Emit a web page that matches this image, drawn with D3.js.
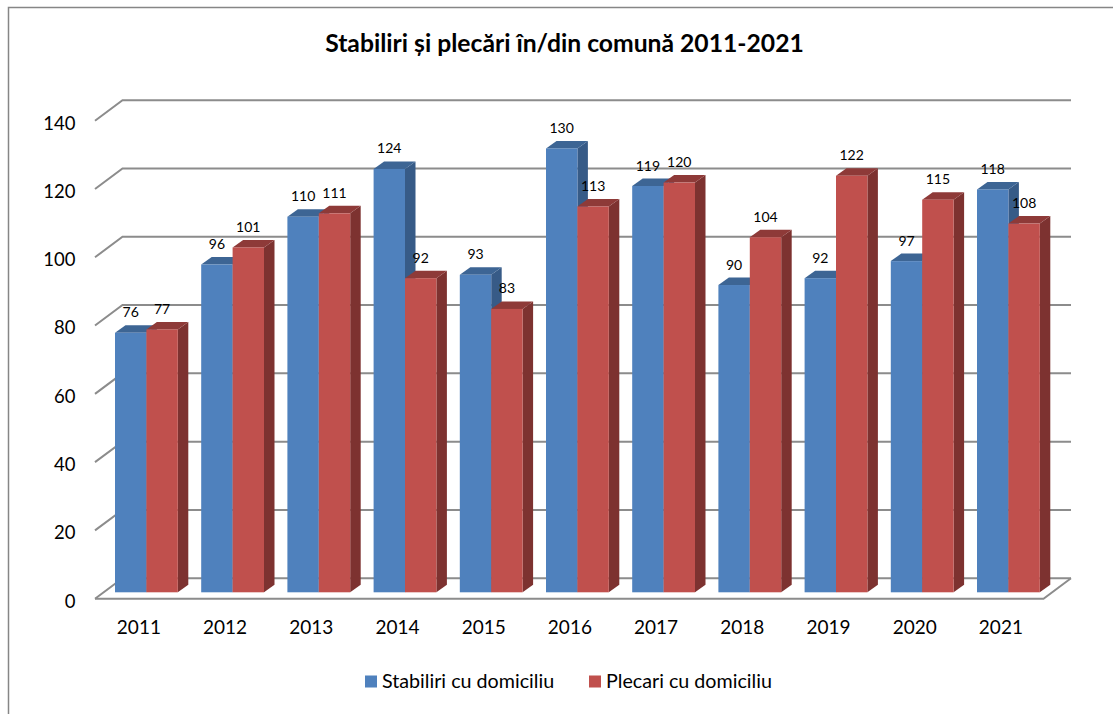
<!DOCTYPE html>
<html>
<head>
<meta charset="utf-8">
<script src="https://cdn.jsdelivr.net/npm/d3@7"></script>
<style>
body { margin: 0; background: #fff; }
svg { display: block; }
text { font-family: Lato, "Open Sans", sans-serif; fill: #000; }
</style>
</head>
<body>
<script>
//chart values
var years = ["2011", "2012", "2013", "2014", "2015", "2016", "2017", "2018", "2019", "2020", "2021"];
var stabiliri = [76, 96, 110, 124, 93, 130, 119, 90, 92, 97, 118];
var plecari = [77, 101, 111, 92, 83, 113, 120, 104, 122, 115, 108];
var yTicks = [0, 20, 40, 60, 80, 100, 120, 140];
var seriesNames = ["Stabiliri cu domiciliu", "Plecari cu domiciliu"];
var titleText = "Stabiliri și plecări în/din comună 2011-2021";

//svg dimensions
var width = 1113,
    height = 714;

//3d offsets
var wallDx = 27.5, wallDy = 20.5; //floor depth
var barDx = 10.5, barDy = 7.5; //bar depth
var barBase = 592.3; //front edge of the bars

var svg = d3.select("body")
    .append("svg")
    .attr("width", width)
    .attr("height", height);

//frame, only top and left are visible
svg.append("path")
    .attr("d", "M8.5,714V7.5H1113")
    .attr("fill", "none")
    .attr("stroke", "#868686")
    .attr("stroke-width", 1.5);

//scales
var x = d3.scaleBand()
    .domain(years)
    .range([115 - 27.4 / 2, 115 - 27.4 / 2 + 86.2 * years.length])
    .paddingInner(0)
    .paddingOuter(0);

var y = d3.scaleLinear()
    .domain([0, 140])
    .range([598.7, 120.7]);

var barW = 31.4;
function barX(year, s){ return x(year) + 27.4 / 2 + s * barW; }
function barH(v){ return y(0) - y(v); }

//floor and gridlines
var left = 95, right = 1043.5;

var grid = svg.append("g").attr("class", "grid");
grid.selectAll("path")
    .data(yTicks)
    .enter()
    .append("path")
    .attr("d", function(d){
        var yy = y(d);
        return "M" + left + "," + yy + "L" + (left + wallDx) + "," + (yy - wallDy) + "H" + (right + wallDx);
    })
    .attr("fill", "none")
    .attr("stroke", "#8c8c8c")
    .attr("stroke-width", 2);

//front and right edge of the floor
grid.append("path")
    .attr("d", "M" + left + "," + y(0) + "H" + right + "L" + (right + wallDx) + "," + (y(0) - wallDy))
    .attr("fill", "none")
    .attr("stroke", "#8c8c8c")
    .attr("stroke-width", 2);

//y axis labels, no line
var yAxis = d3.axisLeft(y)
    .tickValues(yTicks)
    .tickSize(0)
    .tickPadding(0);
var yG = svg.append("g")
    .attr("transform", "translate(75.5,2.5)")
    .call(yAxis);
yG.select(".domain").remove();
yG.selectAll("text")
    .style("font-size", "18.5px");

//x axis labels
var xAxis = d3.axisBottom(x)
    .tickSize(0)
    .tickPadding(0);
var xG = svg.append("g")
    .attr("transform", "translate(-5.5,620)")
    .call(xAxis);
xG.select(".domain").remove();
xG.selectAll("text")
    .style("font-size", "19px");

//bars drawn left to right so that later ones cover the earlier ones
var barData = [];
years.forEach(function(year, i){
    barData.push({year: year, s: 0, v: stabiliri[i]});
    barData.push({year: year, s: 1, v: plecari[i]});
});

var colors = [
    {front: "#4f81bd", top: "#3d6594", side: "#375b87"},
    {front: "#c0504d", top: "#8e3a38", side: "#7d3230"}
];

var bars = svg.selectAll(".bar")
    .data(barData)
    .enter()
    .append("g")
    .attr("class", "bar");

bars.append("path") //side face
    .attr("d", function(d){
        var x1 = barX(d.year, d.s) + barW, top = barBase - barH(d.v);
        return "M" + x1 + "," + barBase + "V" + top + "l" + barDx + "," + (-barDy) + "V" + (barBase - barDy) + "Z";
    })
    .attr("fill", function(d){ return colors[d.s].side; });

bars.append("path") //top face
    .attr("d", function(d){
        var x0 = barX(d.year, d.s), top = barBase - barH(d.v);
        return "M" + x0 + "," + top + "h" + barW + "l" + barDx + "," + (-barDy) + "h" + (-barW) + "Z";
    })
    .attr("fill", function(d){ return colors[d.s].top; });

bars.append("rect") //front face
    .attr("x", function(d){ return barX(d.year, d.s); })
    .attr("y", function(d){ return barBase - barH(d.v); })
    .attr("width", barW)
    .attr("height", function(d){ return barH(d.v); })
    .attr("fill", function(d){ return colors[d.s].front; });

//value labels go on top of everything
svg.selectAll(".value")
    .data(barData)
    .enter()
    .append("text")
    .attr("class", "value")
    .attr("x", function(d){ return barX(d.year, d.s) + barW / 2; })
    .attr("y", function(d){ return barBase - barH(d.v) - 15.5; })
    .attr("text-anchor", "middle")
    .style("font-size", "14px")
    .text(function(d){ return d.v; });

//title
svg.append("text")
    .attr("x", 564.5)
    .attr("y", 52)
    .attr("text-anchor", "middle")
    .style("font-size", "24.7px")
    .style("font-weight", "bold")
    .text(titleText);

//legend
var legendX = [365, 589];
var legend = svg.selectAll(".legend")
    .data(seriesNames)
    .enter()
    .append("g")
    .attr("class", "legend")
    .attr("transform", function(d, i){ return "translate(" + legendX[i] + ",675.5)"; });

legend.append("rect")
    .attr("width", 12)
    .attr("height", 12)
    .attr("fill", function(d, i){ return colors[i].front; });

legend.append("text")
    .attr("x", 17)
    .attr("y", 12.5)
    .style("font-size", "19.7px")
    .text(function(d){ return d; });
</script>
</body>
</html>
